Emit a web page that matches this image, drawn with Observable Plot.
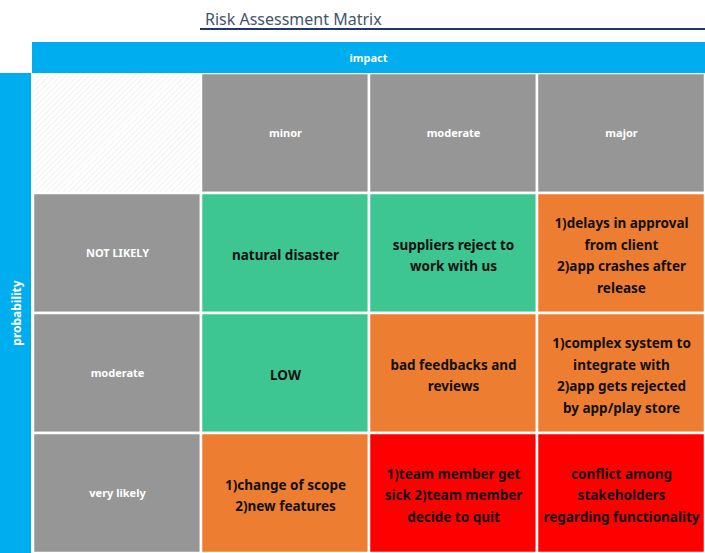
<!DOCTYPE html>
<html><head><meta charset="utf-8">
<script src="https://cdn.jsdelivr.net/npm/d3@7"></script>
<script src="https://cdn.jsdelivr.net/npm/@observablehq/plot@0.6"></script>
<style>
body{margin:0;font-family:"Noto Sans",sans-serif;background:#fff}
#wrap{position:relative;width:705px;height:553px;overflow:hidden}
#title{position:absolute;left:200px;top:8px;width:505px;height:22px;border-bottom:2px solid #1F3864;color:#44546A;font-size:16px;padding-left:5px;box-sizing:border-box;line-height:22px}
#impact{position:absolute;left:32px;top:42px;width:673px;height:31px;background:#00ADEE;color:#fff;font-size:11px;font-weight:bold;text-align:center;line-height:31px}
#prob{position:absolute;left:0;top:73px;width:31px;height:480px;background:#00ADEE}
#prob span{position:absolute;left:50%;top:50%;transform:translate(-50%,-50%) rotate(-90deg);color:#fff;font-size:12px;font-weight:bold;white-space:nowrap}
#chart{position:absolute;left:0;top:0}
</style></head><body>
<div id="wrap">
<div id="chart"></div>
<div id="title">Risk Assessment Matrix</div>
<div id="impact">impact</div>
<div id="prob"><span>probability</span></div>
</div>
<script>
const impacts = ["minor", "moderate", "major"];
const probabilities = ["NOT LIKELY", "moderate", "very likely"];
const risks = [
  ["natural disaster", "suppliers reject to\nwork with us", "1)delays in approval\nfrom client\n2)app crashes after\nrelease"],
  ["LOW", "bad feedbacks and\nreviews", "1)complex system to\nintegrate with\n2)app gets rejected\nby app/play store"],
  ["1)change of scope\n2)new features", "1)team member get\nsick 2)team member\ndecide to quit", "conflict among\nstakeholders\nregarding functionality"]
];
const levels = [
  ["low", "low", "medium"],
  ["low", "medium", "medium"],
  ["medium", "high", "high"]
];

const xs = ["corner", ...impacts];
const ys = ["head", ...probabilities.map((p, i) => "r" + i)];
const headers = [
  ...impacts.map(c => ({x: c, y: "head", label: c})),
  ...probabilities.map((p, i) => ({x: "corner", y: "r" + i, label: p}))
];
const cells = [];
risks.forEach((row, i) => row.forEach((t, j) => cells.push({x: impacts[j], y: "r" + i, label: t, level: levels[i][j]})));

const chart = Plot.plot({
  width: 705, height: 553,
  marginLeft: 32, marginTop: 73, marginRight: 0, marginBottom: 0,
  x: {domain: xs, padding: 0, axis: null},
  y: {domain: ys, padding: 0, axis: null},
  color: {domain: ["low", "medium", "high"], range: ["#3DC592", "#ED7D31", "#FF0000"]},
  style: {fontFamily: "Noto Sans, sans-serif"},
  marks: [
    () => {
      const svg = d3.create("svg:g");
      const pat = svg.append("defs").append("pattern").attr("id", "hatch")
        .attr("width", 4).attr("height", 4).attr("patternUnits", "userSpaceOnUse")
        .attr("patternTransform", "rotate(45)");
      pat.append("line").attr("x1", 0).attr("y1", 0).attr("x2", 0).attr("y2", 4)
        .attr("stroke", "#e4e4e4").attr("stroke-width", 1);
      return svg.node();
    },
    Plot.cell([{x: "corner", y: "head"}], {x: "x", y: "y", fill: "url(#hatch)", inset: 1}),
    Plot.cell(headers, {x: "x", y: "y", fill: "#969696", stroke: "#fff", strokeWidth: 2.5}),
    Plot.text(headers, {x: "x", y: "y", text: "label", fill: "#fff", fontSize: 11, fontWeight: "bold"}),
    Plot.cell(cells, {x: "x", y: "y", fill: "level", stroke: "#fff", strokeWidth: 2.5}),
    Plot.text(cells, {x: "x", y: "y", text: "label", fill: "#111", fontSize: 13.5, fontWeight: "bold", lineHeight: 1.6})
  ]
});
document.getElementById("chart").append(chart);
</script>
</body></html>
